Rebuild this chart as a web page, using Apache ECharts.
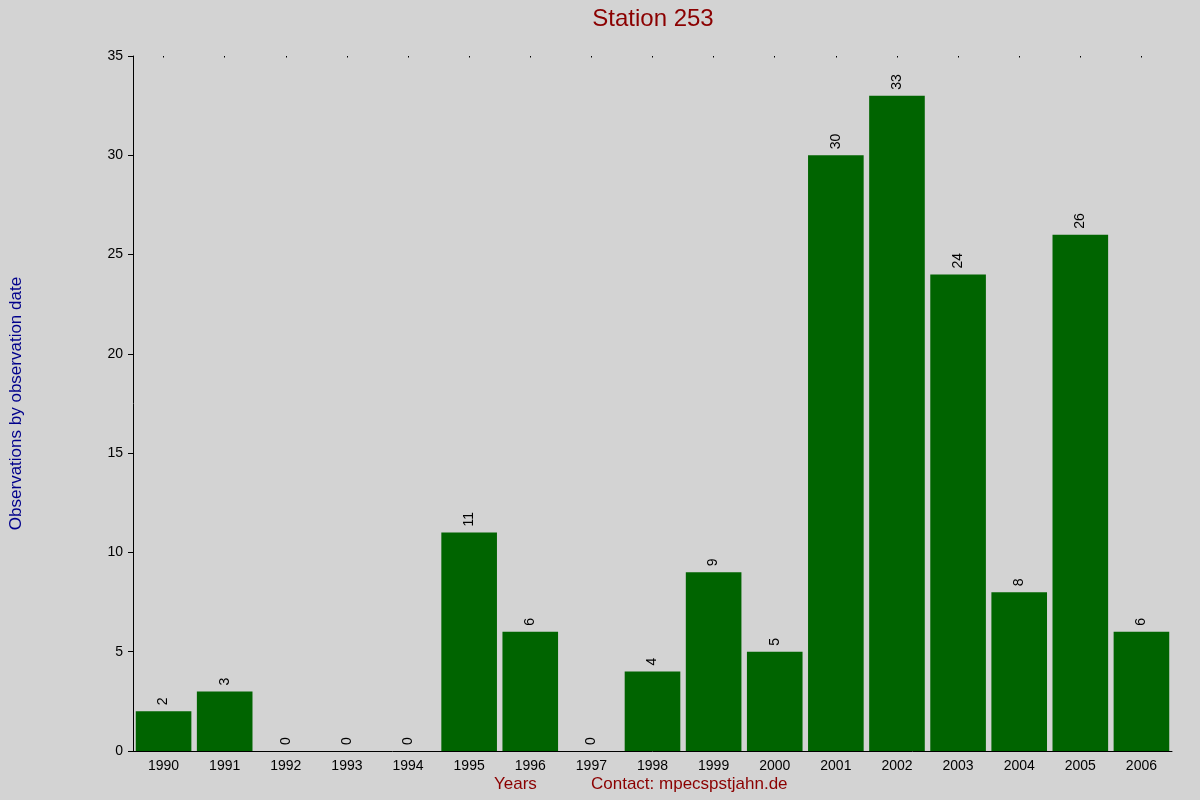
<!DOCTYPE html>
<html><head><meta charset="utf-8">
<script src="https://cdn.jsdelivr.net/npm/echarts@6/dist/echarts.min.js"></script>
<style>html,body{margin:0;padding:0;background:#d3d3d3}#c{width:1200px;height:800px}</style>
</head><body><div id="c"></div>
<script>
const years = ['1990','1991','1992','1993','1994','1995','1996','1997','1998','1999','2000','2001','2002','2003','2004','2005','2006'];
const counts = [2,3,0,0,0,11,6,0,4,9,5,30,33,24,8,26,6];
const yTicks = {min:0,max:35,interval:5};
const chart = echarts.init(document.getElementById('c'));
chart.setOption({
  backgroundColor:'#d3d3d3',
  animation:false,
  title:{text:'Station 253',left:648,top:2,textAlign:'center',textStyle:{color:'#8b0000',fontSize:24,fontWeight:'normal',fontFamily:'Liberation Sans'}},
  grid:{left:127,right:28,top:56,bottom:49},
  xAxis:[{type:'category',data:years,axisLine:{lineStyle:{color:'#000'}},axisTick:{show:false},
    axisLabel:{color:'#000',fontSize:14,fontFamily:'Liberation Sans',margin:8}},
    {type:'category',data:years,position:'top',axisLine:{show:false},axisLabel:{show:false},
     axisTick:{show:true,alignWithLabel:true,length:-1.5,inside:false,lineStyle:{color:'#000'}}}],
  yAxis:{type:'value',min:yTicks.min,max:yTicks.max,interval:yTicks.interval,
    name:'Observations by observation date',nameLocation:'middle',nameGap:108,
    nameTextStyle:{color:'#00008b',fontSize:17,fontFamily:'Liberation Sans'},
    axisLine:{show:true,lineStyle:{color:'#000'}},axisTick:{show:true,length:5,lineStyle:{color:'#000'}},
    splitLine:{show:false},axisLabel:{color:'#000',fontSize:14,fontFamily:'Liberation Sans',margin:10}},
  series:[{type:'bar',data:counts,barCategoryGap:'9%',itemStyle:{color:'#006400'},
    label:{show:true,position:'top',rotate:90,align:'left',verticalAlign:'middle',distance:6,color:'#000',fontSize:14,fontFamily:'Liberation Sans'}}],
  graphic:[
    {type:'text',left:494,top:776,style:{text:'Years',fill:'#8b0000',fontSize:17,fontFamily:'Liberation Sans'}},
    {type:'text',left:591,top:776,style:{text:'Contact: mpecspstjahn.de',fill:'#8b0000',fontSize:17,fontFamily:'Liberation Sans'}}
  ]
});
</script></body></html>
